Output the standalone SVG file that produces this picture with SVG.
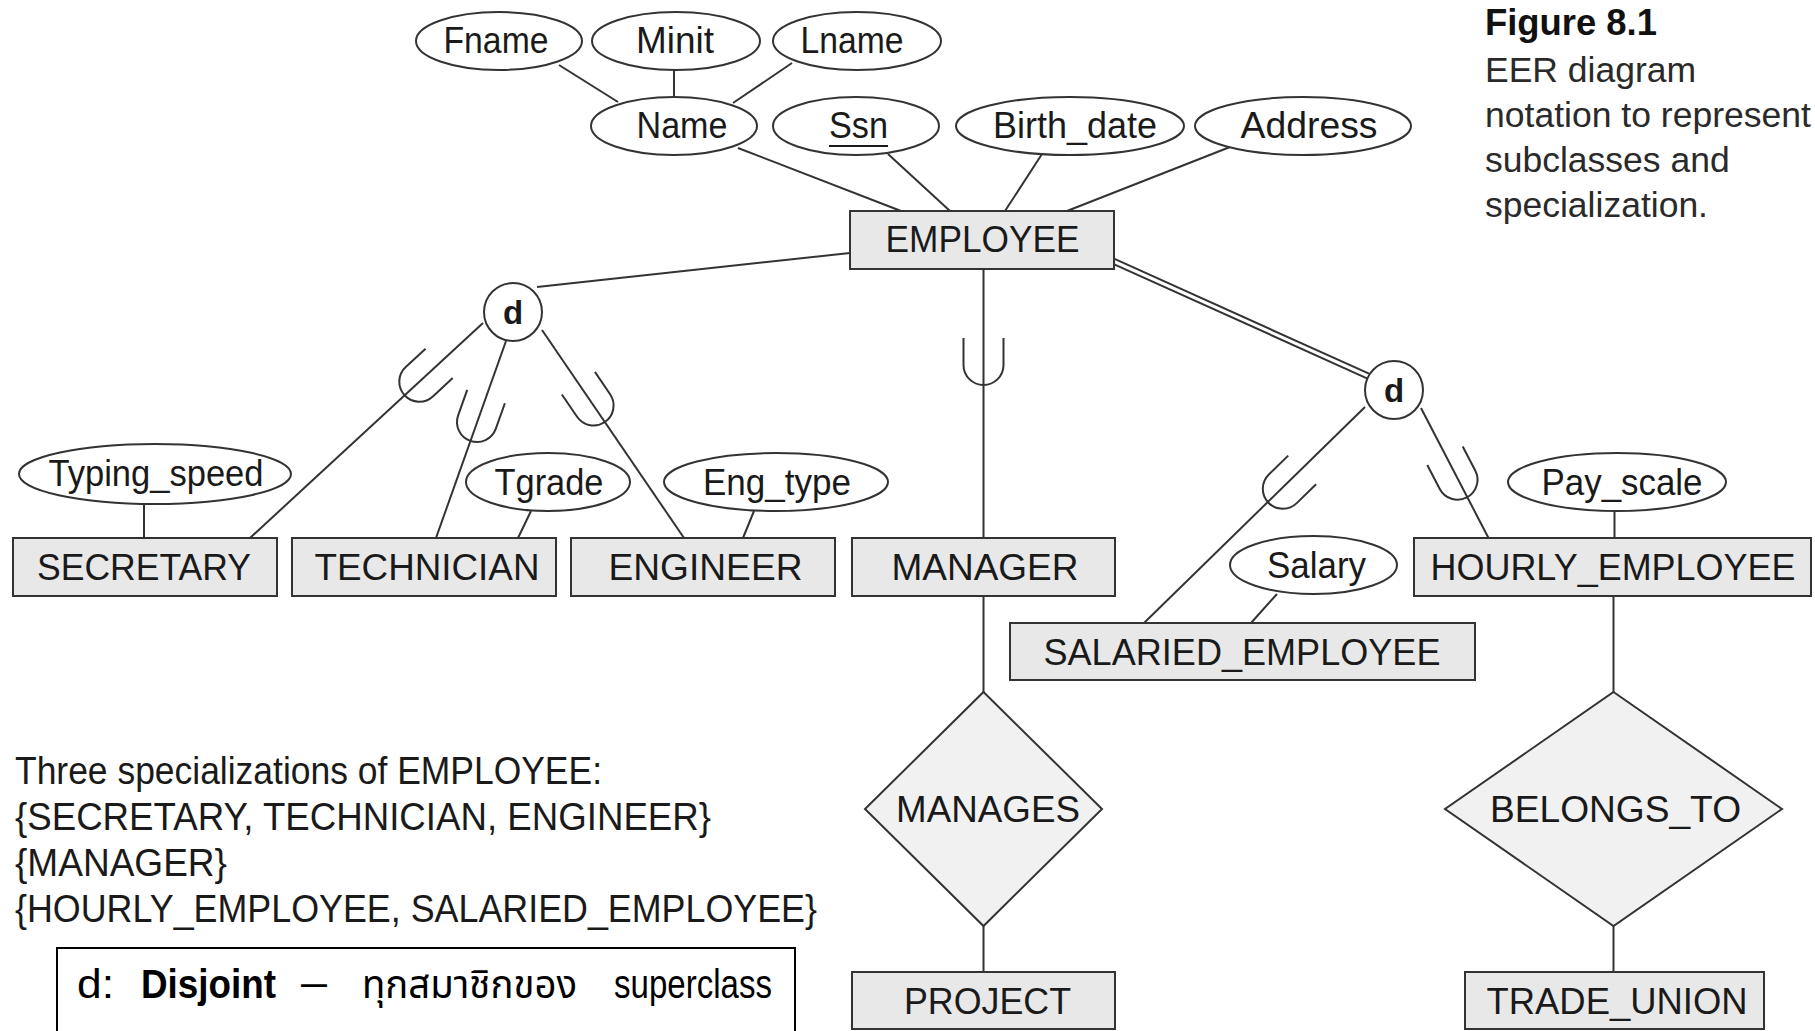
<svg xmlns="http://www.w3.org/2000/svg" xmlns:xlink="http://www.w3.org/1999/xlink" width="1815" height="1031" viewBox="0 0 1815 1031">
<style>
  .lbl { font-family: "Liberation Sans", Arial, sans-serif; font-size: 36px; fill: #1a1a1a; text-anchor: middle; }
  .ent rect { fill: #e8e8e8; stroke: #333; stroke-width: 2; }
  .att ellipse { fill: #fff; stroke: #333; stroke-width: 2; }
  .rel polygon { fill: #f1f1f1; stroke: #333; stroke-width: 2; }
  .spc circle { fill: #fff; stroke: #333; stroke-width: 2; }
  .spc text { font-family: "Liberation Sans", Arial, sans-serif; font-size: 33px; font-weight: bold; fill: #1a1a1a; text-anchor: middle; }
  .con line, .con use { stroke: #333; stroke-width: 2; fill: none; }
  .note { font-family: "Liberation Sans", Arial, sans-serif; font-size: 38px; fill: #1a1a1a; }
  .cap { font-family: "Liberation Sans", Arial, sans-serif; font-size: 35.5px; fill: #2a2a2a; }
  .box { font-family: "Liberation Sans", "Noto Sans Thai", "Tlwg Typo", "Garuda", "Loma", "DejaVu Sans", sans-serif; font-size: 40px; fill: #000; }
</style>
<defs>
  <path id="u" d="M -20,-27 L -20,0 A 20 20 0 0 0 20,0 L 20,-27"/>
</defs>
<rect x="0" y="0" width="1815" height="1031" fill="#fff"/>

<g id="connectors" class="con">
  <line x1="559" y1="65" x2="618" y2="102"/>
  <line x1="674" y1="70" x2="674" y2="97"/>
  <line x1="792" y1="63" x2="733" y2="103"/>
  <line x1="738" y1="148" x2="901" y2="211"/>
  <line x1="888" y1="154" x2="950" y2="211"/>
  <line x1="1042" y1="154" x2="1005" y2="211"/>
  <line x1="1230" y1="147" x2="1067" y2="211"/>
  <line x1="850" y1="253" x2="537" y2="287"/>
  <line x1="483" y1="323" x2="250" y2="538"/>
  <line x1="506" y1="341" x2="436" y2="538"/>
  <line x1="542" y1="330" x2="684" y2="538"/>
  <use xlink:href="#u" href="#u" transform="translate(419.3,381.7) rotate(47.3)"/>
  <use xlink:href="#u" href="#u" transform="translate(477,422) rotate(19.6)"/>
  <use xlink:href="#u" href="#u" transform="translate(593.6,405.5) rotate(-34.3)"/>
  <line x1="983.5" y1="269" x2="983.5" y2="538"/>
  <use xlink:href="#u" href="#u" transform="translate(983.5,365)"/>
  <line x1="1114" y1="258.7" x2="1369" y2="373.7"/>
  <line x1="1112" y1="263.3" x2="1367" y2="378.3"/>
  <line x1="1365" y1="407" x2="1144" y2="623"/>
  <line x1="1421" y1="408" x2="1488.5" y2="538"/>
  <use xlink:href="#u" href="#u" transform="translate(1282.8,488.8) rotate(45.8)"/>
  <use xlink:href="#u" href="#u" transform="translate(1457.5,479.7) rotate(-27.6)"/>
  <line x1="144" y1="504" x2="144" y2="538"/>
  <line x1="531" y1="511" x2="518" y2="538"/>
  <line x1="754" y1="511" x2="743" y2="538"/>
  <line x1="1277" y1="594" x2="1251" y2="623"/>
  <line x1="1614.5" y1="511" x2="1614.5" y2="538"/>
  <line x1="983.5" y1="596" x2="983.5" y2="692"/>
  <line x1="983.5" y1="926" x2="983.5" y2="972"/>
  <line x1="1613.5" y1="596" x2="1613.5" y2="692"/>
  <line x1="1613.5" y1="926" x2="1613.5" y2="972"/>
</g>

<g id="fname" class="att"><ellipse cx="499" cy="41" rx="83" ry="29"/><text class="lbl" x="496" y="53" textLength="105" lengthAdjust="spacingAndGlyphs">Fname</text></g>
<g id="minit" class="att"><ellipse cx="676" cy="41" rx="84" ry="29"/><text class="lbl" x="675" y="53" textLength="78" lengthAdjust="spacingAndGlyphs">Minit</text></g>
<g id="lname" class="att"><ellipse cx="857" cy="41" rx="84" ry="29"/><text class="lbl" x="852" y="53" textLength="103" lengthAdjust="spacingAndGlyphs">Lname</text></g>
<g id="name" class="att"><ellipse cx="674" cy="126" rx="83" ry="29"/><text class="lbl" x="682" y="138" textLength="91" lengthAdjust="spacingAndGlyphs">Name</text></g>
<g id="ssn" class="att"><ellipse cx="856" cy="126" rx="83" ry="29"/><text class="lbl" x="858.5" y="138" textLength="59" lengthAdjust="spacingAndGlyphs">Ssn</text><line x1="829" y1="146" x2="888" y2="146" stroke="#1a1a1a" stroke-width="2.2"/></g>
<g id="birth_date" class="att"><ellipse cx="1070" cy="126" rx="114" ry="29"/><text class="lbl" x="1075" y="138" textLength="164" lengthAdjust="spacingAndGlyphs">Birth_date</text></g>
<g id="address" class="att"><ellipse cx="1303" cy="126" rx="108" ry="29"/><text class="lbl" x="1309" y="138" textLength="137" lengthAdjust="spacingAndGlyphs">Address</text></g>

<g id="employee" class="ent"><rect x="850" y="211" width="264" height="58"/><text class="lbl" x="982.5" y="252" textLength="194" lengthAdjust="spacingAndGlyphs">EMPLOYEE</text></g>

<g id="d1" class="spc"><circle cx="513" cy="312" r="29"/><text x="513" y="324">d</text></g>
<g id="d2" class="spc"><circle cx="1394" cy="390" r="29"/><text x="1394" y="402">d</text></g>

<g id="typing_speed" class="att"><ellipse cx="155" cy="474" rx="136" ry="30"/><text class="lbl" x="156" y="486" textLength="215" lengthAdjust="spacingAndGlyphs">Typing_speed</text></g>
<g id="tgrade" class="att"><ellipse cx="548" cy="482" rx="82" ry="29"/><text class="lbl" x="549" y="495" textLength="109" lengthAdjust="spacingAndGlyphs">Tgrade</text></g>
<g id="eng_type" class="att"><ellipse cx="776" cy="482" rx="112" ry="29"/><text class="lbl" x="777" y="495" textLength="148" lengthAdjust="spacingAndGlyphs">Eng_type</text></g>
<g id="salary" class="att"><ellipse cx="1313.5" cy="565" rx="83.5" ry="29"/><text class="lbl" x="1316.5" y="578" textLength="99" lengthAdjust="spacingAndGlyphs">Salary</text></g>
<g id="pay_scale" class="att"><ellipse cx="1617" cy="482" rx="109" ry="29"/><text class="lbl" x="1622" y="495" textLength="161" lengthAdjust="spacingAndGlyphs">Pay_scale</text></g>

<g id="secretary" class="ent"><rect x="13" y="538" width="264" height="58"/><text class="lbl" x="144" y="580" textLength="214" lengthAdjust="spacingAndGlyphs">SECRETARY</text></g>
<g id="technician" class="ent"><rect x="292" y="538" width="264" height="58"/><text class="lbl" x="427" y="580" textLength="225" lengthAdjust="spacingAndGlyphs">TECHNICIAN</text></g>
<g id="engineer" class="ent"><rect x="571" y="538" width="264" height="58"/><text class="lbl" x="705.5" y="580" textLength="194" lengthAdjust="spacingAndGlyphs">ENGINEER</text></g>
<g id="manager" class="ent"><rect x="852" y="538" width="263" height="58"/><text class="lbl" x="985" y="580" textLength="187" lengthAdjust="spacingAndGlyphs">MANAGER</text></g>
<g id="hourly_employee" class="ent"><rect x="1414" y="538" width="397" height="58"/><text class="lbl" x="1613" y="580" textLength="365" lengthAdjust="spacingAndGlyphs">HOURLY_EMPLOYEE</text></g>
<g id="salaried_employee" class="ent"><rect x="1010" y="623" width="465" height="57"/><text class="lbl" x="1242" y="665" textLength="397" lengthAdjust="spacingAndGlyphs">SALARIED_EMPLOYEE</text></g>

<g id="manages" class="rel"><polygon points="983.5,692 1102,809 983.5,926 865,809"/><text class="lbl" x="988" y="822" textLength="184" lengthAdjust="spacingAndGlyphs">MANAGES</text></g>
<g id="belongs_to" class="rel"><polygon points="1613.5,692 1782,809 1613.5,926 1445,809"/><text class="lbl" x="1615.5" y="822" textLength="251" lengthAdjust="spacingAndGlyphs">BELONGS_TO</text></g>

<g id="project" class="ent"><rect x="852" y="972" width="263" height="57"/><text class="lbl" x="987.5" y="1014" textLength="167" lengthAdjust="spacingAndGlyphs">PROJECT</text></g>
<g id="trade_union" class="ent"><rect x="1465" y="972" width="299" height="57"/><text class="lbl" x="1617" y="1014" textLength="261" lengthAdjust="spacingAndGlyphs">TRADE_UNION</text></g>

<g id="caption">
  <text x="1485" y="35" font-family="'Liberation Sans', Arial, sans-serif" font-size="36" font-weight="bold" fill="#111" textLength="172" lengthAdjust="spacingAndGlyphs">Figure 8.1</text>
  <text class="cap" x="1485" y="82">EER diagram</text>
  <text class="cap" x="1485" y="127" textLength="326" lengthAdjust="spacingAndGlyphs">notation to represent</text>
  <text class="cap" x="1485" y="172">subclasses and</text>
  <text class="cap" x="1485" y="217">specialization.</text>
</g>

<g id="specializations-note">
  <text class="note" x="15" y="784" textLength="587" lengthAdjust="spacingAndGlyphs">Three specializations of EMPLOYEE:</text>
  <text class="note" x="15" y="830" textLength="696" lengthAdjust="spacingAndGlyphs">{SECRETARY, TECHNICIAN, ENGINEER}</text>
  <text class="note" x="15" y="876" textLength="212" lengthAdjust="spacingAndGlyphs">{MANAGER}</text>
  <text class="note" x="15" y="922" textLength="802" lengthAdjust="spacingAndGlyphs">{HOURLY_EMPLOYEE, SALARIED_EMPLOYEE}</text>
</g>

<g id="disjoint-box">
  <rect x="57" y="948" width="738" height="100" fill="#fff" stroke="#000" stroke-width="2"/>
  <text class="box" x="77" y="998" textLength="37" lengthAdjust="spacingAndGlyphs">d:</text>
  <text class="box" x="141" y="998" font-weight="bold" textLength="135" lengthAdjust="spacingAndGlyphs">Disjoint</text>
  <text class="box" x="301" y="996" textLength="26" lengthAdjust="spacingAndGlyphs">–</text>
  <text class="box" x="362" y="998" textLength="215" lengthAdjust="spacingAndGlyphs">ทุกสมาชิกของ</text>
  <text class="box" x="614" y="998" textLength="158" lengthAdjust="spacingAndGlyphs">superclass</text>
</g>
</svg>
